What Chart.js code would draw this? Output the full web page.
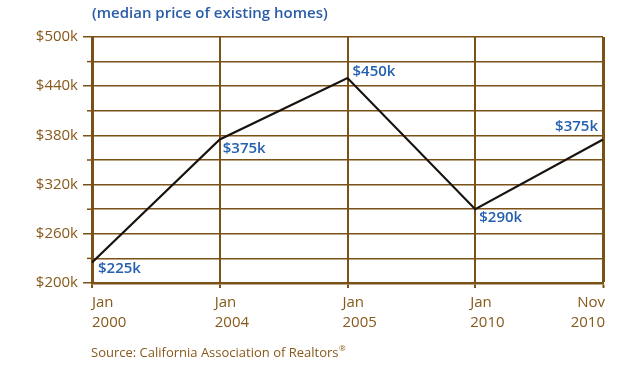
<!DOCTYPE html>
<html>
<head>
<meta charset="utf-8">
<script src="https://cdn.jsdelivr.net/npm/chart.js@4"></script>
<style>
  html, body { margin: 0; padding: 0; background: #ffffff; }
  #c { display: block; }
</style>
</head>
<body>
<canvas id="c" width="640" height="381"></canvas>
<script>
// ---- data ----
const categories = [["Jan", "2000"], ["Jan", "2004"], ["Jan", "2005"], ["Jan", "2010"], ["Nov", "2010"]];
const medianPrice = [225000, 375000, 450000, 290000, 375000];
const pointLabels = ["$225k", "$375k", "$450k", "$290k", "$375k"];
const yMin = 200000, yMax = 500000, yStep = 30000, yLabelStep = 60000;
const titleText = "(median price of existing homes)";
const sourceText = "Source: California Association of Realtors";
const sourceMark = "\u00AE";

// ---- styles ----
const BROWN_LINE = "#7a5116";
const BROWN_TEXT = "#87581a";
const BLUE_TITLE = "#2a5da8";
const BLUE_LABEL = "#2460b0";
const FONT = "'Open Sans', 'DejaVu Sans', sans-serif";

// label placement relative to each point: [dx, dy, align]
const labelPlacement = [[6, 6, "left"], [3, 9, "left"], [5, -6, "left"], [4, 9, "left"], [-5, -13, "right"]];

const isMajor = v => ((v - yMin) % yLabelStep) === 0;

const decorPlugin = {
  id: "decor",
  afterDraw(chart) {
    const ctx = chart.ctx;
    const xs = chart.scales.x, ys = chart.scales.y;
    const area = chart.chartArea;
    ctx.save();
    // minor tick stubs on the y axis
    ctx.strokeStyle = BROWN_LINE;
    ctx.lineWidth = 1.5;
    ys.ticks.forEach(t => {
      if (!isMajor(t.value)) {
        const y = ys.getPixelForValue(t.value);
        ctx.beginPath();
        ctx.moveTo(area.left - 5, y);
        ctx.lineTo(area.left, y);
        ctx.stroke();
      }
    });
    // x tick labels
    ctx.fillStyle = BROWN_TEXT;
    ctx.font = "15px " + FONT;
    ctx.textBaseline = "middle";
    const n = categories.length;
    categories.forEach((lines, i) => {
      const x = xs.getPixelForTick(i);
      let tx = x - 5, align = "left";
      if (i === 0) { tx = x; }
      if (i === n - 1) { tx = x + 2; align = "right"; }
      ctx.textAlign = align;
      lines.forEach((s, j) => ctx.fillText(s, tx, area.bottom + 20 + j * 20));
    });
    // point value labels
    const meta = chart.getDatasetMeta(0);
    ctx.fillStyle = BLUE_LABEL;
    ctx.font = "600 15px " + FONT;
    meta.data.forEach((pt, i) => {
      const [dx, dy, align] = labelPlacement[i];
      ctx.textAlign = align;
      ctx.fillText(pointLabels[i], pt.x + dx, pt.y + dy);
    });
    // source
    ctx.fillStyle = BROWN_TEXT;
    ctx.font = "13px " + FONT;
    ctx.textAlign = "left";
    const sx = area.left - 1, sy = area.bottom + 70;
    ctx.fillText(sourceText, sx, sy);
    const w = ctx.measureText(sourceText).width;
    ctx.font = "8px " + FONT;
    ctx.fillText(sourceMark, sx + w + 0.5, sy - 4);
    ctx.restore();
  }
};

new Chart(document.getElementById("c"), {
  type: "line",
  data: {
    labels: categories,
    datasets: [{
      data: medianPrice,
      borderColor: "#1a130d",
      borderWidth: 2.2,
      pointRadius: 0,
      tension: 0,
      fill: false
    }]
  },
  options: {
    responsive: false,
    animation: false,
    devicePixelRatio: 1,
    layout: { padding: { left: 0, right: 37, top: 0, bottom: 0 } },
    plugins: {
      legend: { display: false },
      tooltip: { enabled: false },
      title: {
        display: true,
        text: titleText,
        align: "start",
        fullSize: false,
        color: BLUE_TITLE,
        font: { family: FONT, size: 15, weight: "600", lineHeight: 1.2 },
        padding: { top: 5, bottom: 14 }
      }
    },
    scales: {
      x: {
        type: "category",
        offset: false,
        ticks: { display: false },
        grid: {
          color: BROWN_LINE,
          lineWidth: ctx => (ctx.index === categories.length - 1 ? 3 : 2),
          drawTicks: true,
          tickLength: 5,
          tickWidth: 2,
          tickColor: BROWN_LINE
        },
        border: { display: true, color: BROWN_LINE, width: 2.5 },
        afterFit: s => { s.height = 98; }
      },
      y: {
        min: yMin,
        max: yMax,
        ticks: {
          stepSize: yStep,
          padding: 5,
          color: BROWN_TEXT,
          font: { family: FONT, size: 15 },
          callback: v => (isMajor(v) ? "$" + (v / 1000) + "k" : "")
        },
        grid: {
          color: BROWN_LINE,
          lineWidth: 1.5,
          drawTicks: true,
          tickLength: 9,
          tickWidth: 1.5,
          tickColor: ctx => (ctx.tick && isMajor(ctx.tick.value) ? BROWN_LINE : "rgba(0,0,0,0)")
        },
        border: { display: true, color: BROWN_LINE, width: 3 },
        afterFit: s => { s.width = 92; }
      }
    }
  },
  plugins: [decorPlugin]
});
</script>
</body>
</html>
